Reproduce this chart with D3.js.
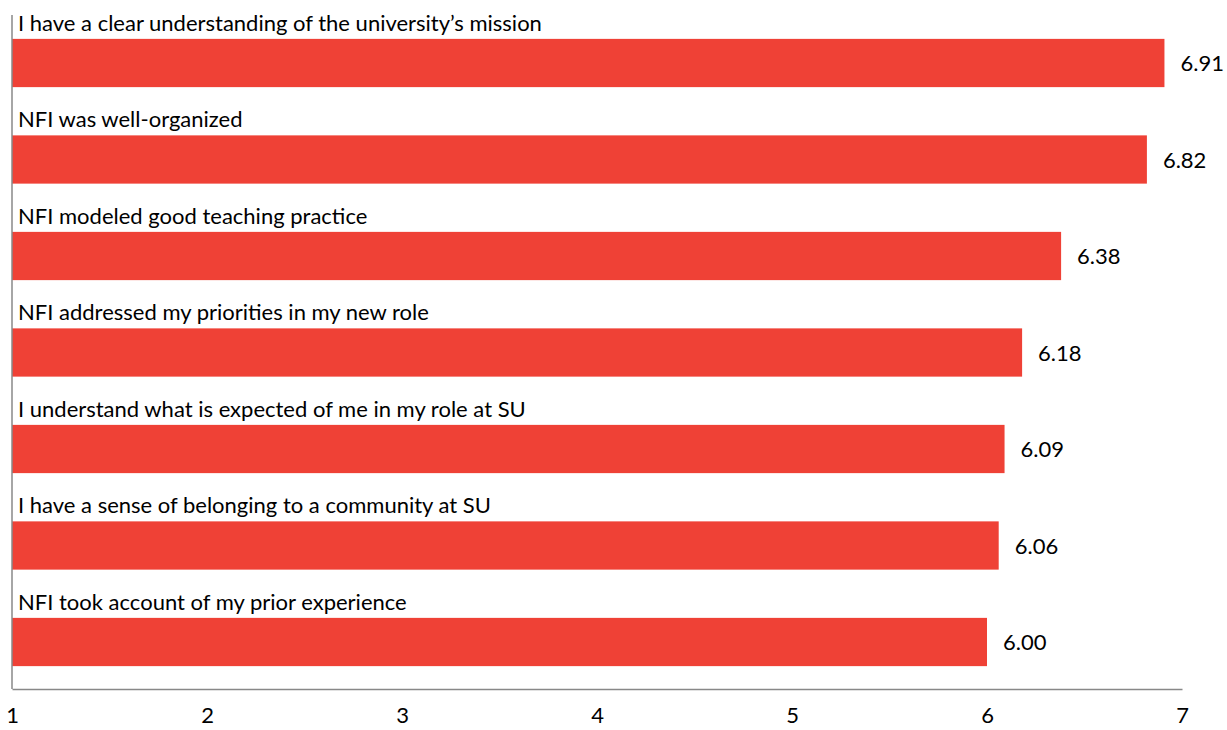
<!DOCTYPE html>
<html>
<head>
<meta charset="utf-8">
<script src="https://cdn.jsdelivr.net/npm/d3@7"></script>
<style>
  html, body { margin: 0; padding: 0; background: #fff; }
  svg { display: block; }
  text { font-family: Lato, "Open Sans", sans-serif; fill: #000; }
</style>
</head>
<body>
<svg id="chart" width="1227" height="730"></svg>
<script>
// Survey statements and mean agreement scores (1–7 scale)
const statements = [
  "I have a clear understanding of the university\u2019s mission",
  "NFI was well-organized",
  "NFI modeled good teaching practice",
  "NFI addressed my priorities in my new role",
  "I understand what is expected of me in my role at SU",
  "I have a sense of belonging to a community at SU",
  "NFI took account of my prior experience"
];
const scores = [6.91, 6.82, 6.38, 6.18, 6.09, 6.06, 6.00];
const tickValues = [1, 2, 3, 4, 5, 6, 7];

const svg = d3.select("#chart");
const left = 12, right = 1182, axisY = 689, topY = 15;

const x = d3.scaleLinear().domain([1, 7]).range([left, right]);
const y = d3.scaleBand()
  .domain(statements)
  .range([14.75, 690.25])
  .paddingInner(0.5)
  .paddingOuter(0.25);

const data = statements.map((s, i) => ({ label: s, value: scores[i] }));

// Bars
svg.append("g").selectAll("rect")
  .data(data)
  .join("rect")
  .attr("x", x(1))
  .attr("y", d => y(d.label))
  .attr("width", d => x(d.value) - x(1))
  .attr("height", y.bandwidth())
  .attr("fill", "#EF4136");

// Statement labels above each bar
svg.append("g").selectAll("text")
  .data(data)
  .join("text")
  .attr("x", 18)
  .attr("y", d => y(d.label) - 8)
  .attr("font-size", 22)
  .text(d => d.label);

// Value labels to the right of each bar
svg.append("g").selectAll("text")
  .data(data)
  .join("text")
  .attr("x", d => x(d.value) + 16)
  .attr("y", d => y(d.label) + y.bandwidth() / 2 + 8)
  .attr("font-size", 22)
  .text(d => d.value.toFixed(2));

// Axes
const xAxis = d3.axisBottom(x).tickValues(tickValues).tickSize(0).tickPadding(18).tickFormat(d3.format("d"));
const gx = svg.append("g").attr("transform", `translate(0,${axisY})`).call(xAxis);
gx.select(".domain").attr("stroke", "#888").attr("stroke-width", 1.5);
gx.selectAll("text").attr("font-size", 22).attr("fill", "#000").style("font-family", "Lato, 'Open Sans', sans-serif");

svg.append("line")
  .attr("x1", left).attr("x2", left)
  .attr("y1", topY).attr("y2", axisY)
  .attr("stroke", "#888").attr("stroke-width", 1.5);
</script>
</body>
</html>
